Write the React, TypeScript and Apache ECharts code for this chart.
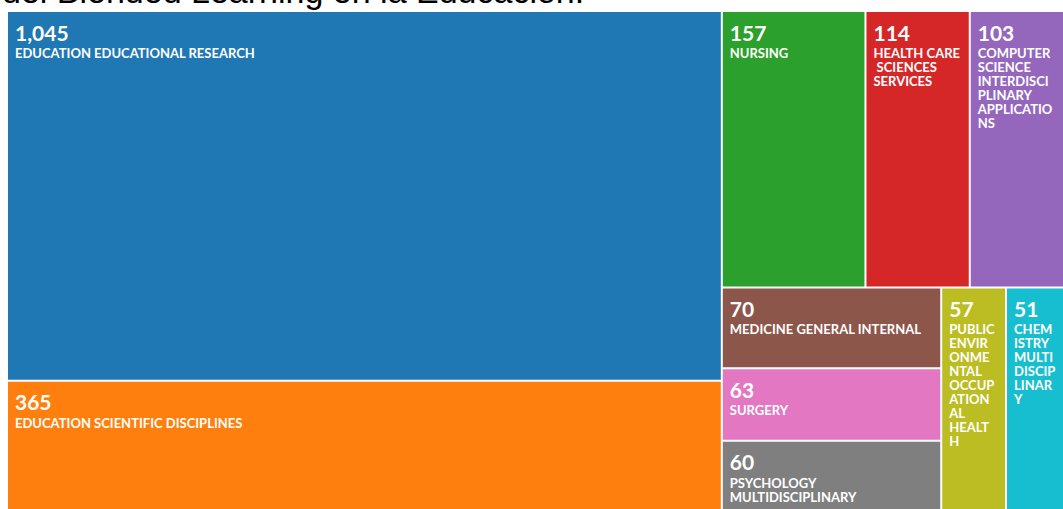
import React, { useEffect, useRef } from "react";
import * as echarts from "echarts";

const titleText = "del Blended Learning en la Educación.";
const categories = [
  "EDUCATION EDUCATIONAL RESEARCH",
  "EDUCATION SCIENTIFIC DISCIPLINES",
  "NURSING",
  "HEALTH CARE SCIENCES SERVICES",
  "COMPUTER SCIENCE INTERDISCIPLINARY APPLICATIONS",
  "MEDICINE GENERAL INTERNAL",
  "SURGERY",
  "PSYCHOLOGY MULTIDISCIPLINARY",
  "PUBLIC ENVIRONMENTAL OCCUPATIONAL HEALTH",
  "CHEMISTRY MULTIDISCIPLINARY",
];
const counts = [1045, 365, 157, 114, 103, 70, 63, 60, 57, 51];
const colors = [
  "#1f77b4", "#ff7f0e", "#2ca02c", "#d62728", "#9467bd",
  "#8c564b", "#e377c2", "#7f7f7f", "#bcbd22", "#17becf",
];

export default function App() {
  const ref = useRef<HTMLDivElement>(null);
  useEffect(() => {
    if (!ref.current) return;
    const chart = echarts.init(ref.current, undefined, { renderer: "svg" });
    const data = categories.map((name, i) => ({
      name,
      value: counts[i],
      itemStyle: { color: colors[i] },
    }));
    chart.setOption({
      animation: false,
      graphic: [
        {
          type: "text",
          left: 2,
          top: -26,
          style: {
            text: titleText,
            font: "34px 'Liberation Sans', Arial, sans-serif",
            fill: "#000",
          },
        },
      ],
      series: [
        {
          type: "treemap",
          left: 8,
          top: 12,
          width: 1055,
          height: 497,
          squareRatio: 3,
          roam: false,
          nodeClick: false,
          breadcrumb: { show: false },
          sort: false,
          data,
          levels: [
            { itemStyle: { gapWidth: 2, borderWidth: 0, borderColor: "#fff" } },
          ],
          itemStyle: { borderWidth: 0, gapWidth: 2 },
          label: {
            show: true,
            position: "insideTopLeft",
            padding: [6, 7, 0, 7],
            overflow: "break",
            color: "#fff",
            formatter: (p: any) =>
              "{num|" + Number(p.value).toLocaleString("en-US") + "}{name|\n" + p.name + "}",
            rich: {
              num: { fontSize: 21, lineHeight: 28, fontWeight: "bold", color: "#fff", fontFamily: "Lato, sans-serif" },
              name: { fontSize: 13, lineHeight: 14, fontWeight: "bold", color: "#fff", fontFamily: "Lato, sans-serif" },
            },
          },
          upperLabel: { show: false },
        },
      ],
    });
    return () => chart.dispose();
  }, []);
  return (
    <div
      ref={ref}
      style={{ position: "fixed", left: 0, top: 0, width: 1063, height: 509, background: "#fff" }}
    />
  );
}
